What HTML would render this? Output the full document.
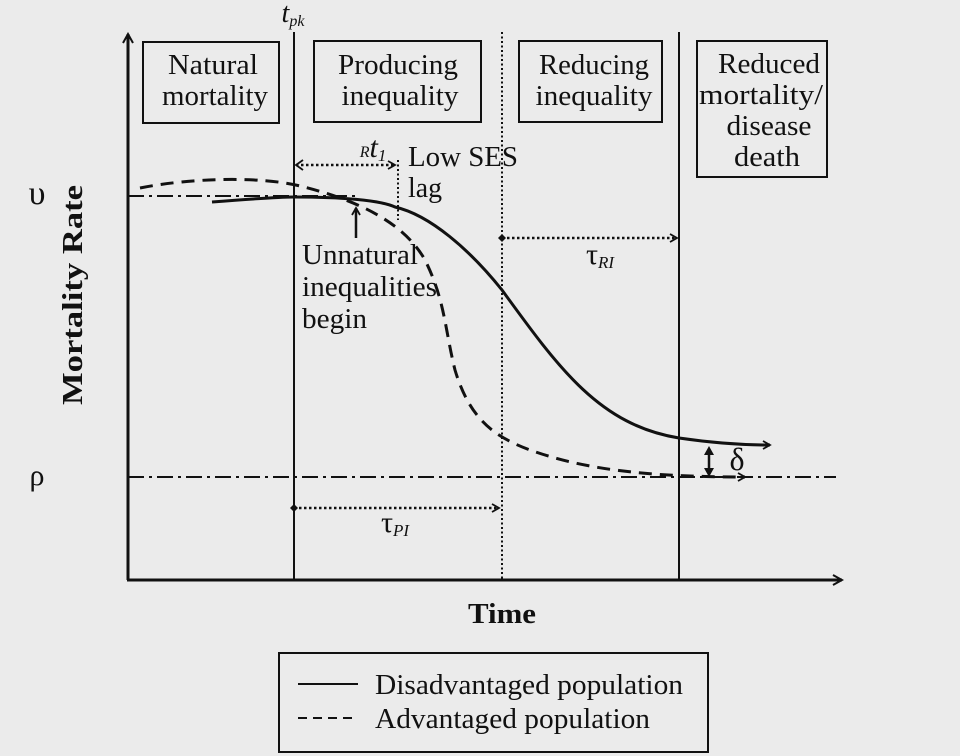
<!DOCTYPE html>
<html><head><style>html,body{margin:0;padding:0;background:#ebebeb;}svg{display:block}</style></head>
<body>
<svg width="960" height="756" viewBox="0 0 960 756" xmlns="http://www.w3.org/2000/svg" font-family="Liberation Serif, serif" fill="none" stroke="#111">
<defs>
<marker id="ah" markerWidth="12" markerHeight="12" refX="10" refY="6" orient="auto" markerUnits="userSpaceOnUse"><path d="M1,1 L10,6 L1,11" stroke="#111" stroke-width="2" fill="none"/></marker>
<marker id="ahs" markerWidth="10" markerHeight="10" refX="8" refY="5" orient="auto" markerUnits="userSpaceOnUse"><path d="M1,1 L8,5 L1,9" stroke="#111" stroke-width="1.8" fill="none"/></marker>
<marker id="dot" markerWidth="8" markerHeight="8" refX="4" refY="4" markerUnits="userSpaceOnUse"><path d="M0,4 L4,0 L8,4 L4,8Z" fill="#111" stroke="none"/></marker>
</defs>
<line x1="128" y1="580" x2="128" y2="34" stroke-width="3" marker-end="url(#ah)"/>
<line x1="127" y1="580" x2="842" y2="580" stroke-width="3" marker-end="url(#ah)"/>
<line x1="294" y1="32" x2="294" y2="580" stroke-width="2"/>
<line x1="502" y1="32" x2="502" y2="580" stroke-width="2" stroke-dasharray="2,2.5"/>
<line x1="679" y1="32" x2="679" y2="580" stroke-width="2"/>
<g stroke-width="2">
<rect x="143" y="42" width="136" height="81"/>
<rect x="314" y="41" width="167" height="81"/>
<rect x="519" y="41" width="143" height="81"/>
<rect x="697" y="41" width="130" height="136"/>
</g>
<g fill="#111" stroke="none" font-size="28" text-anchor="middle" lengthAdjust="spacingAndGlyphs">
<text x="213" y="74" textLength="90" lengthAdjust="spacingAndGlyphs">Natural</text><text x="215" y="105" textLength="106" lengthAdjust="spacingAndGlyphs">mortality</text>
<text x="398" y="74" textLength="120" lengthAdjust="spacingAndGlyphs">Producing</text><text x="400" y="105" textLength="117" lengthAdjust="spacingAndGlyphs">inequality</text>
<text x="594" y="74" textLength="110" lengthAdjust="spacingAndGlyphs">Reducing</text><text x="594" y="105" textLength="117" lengthAdjust="spacingAndGlyphs">inequality</text>
<text x="769" y="73" textLength="102" lengthAdjust="spacingAndGlyphs">Reduced</text><text x="761" y="104" textLength="124" lengthAdjust="spacingAndGlyphs">mortality/</text><text x="769" y="135" textLength="85" lengthAdjust="spacingAndGlyphs">disease</text><text x="767" y="166" textLength="66" lengthAdjust="spacingAndGlyphs">death</text>
<text x="293" y="22" font-style="italic" font-size="28">t<tspan font-size="16" dy="4">pk</tspan></text>
<text x="37" y="204" font-size="34">υ</text>
<text x="37" y="485" font-size="30">ρ</text>
<text x="502" y="623" font-weight="bold" font-size="29" textLength="68" lengthAdjust="spacingAndGlyphs">Time</text>
<text transform="translate(82,295) rotate(-90)" font-weight="bold" font-size="29" textLength="220" lengthAdjust="spacingAndGlyphs">Mortality Rate</text>
<text x="373" y="157" font-style="italic" font-size="30"><tspan font-size="16">R</tspan>t<tspan font-size="17" dy="4">1</tspan></text>
<text x="408" y="166" text-anchor="start" textLength="110" lengthAdjust="spacingAndGlyphs">Low SES</text><text x="408" y="197" text-anchor="start" textLength="34" lengthAdjust="spacingAndGlyphs">lag</text>
<text x="302" y="264" text-anchor="start" textLength="116" lengthAdjust="spacingAndGlyphs">Unnatural</text>
<text x="302" y="296" text-anchor="start" textLength="135" lengthAdjust="spacingAndGlyphs">inequalities</text>
<text x="302" y="328" text-anchor="start" textLength="65" lengthAdjust="spacingAndGlyphs">begin</text>
<text x="600" y="264" font-size="30">τ<tspan font-style="italic" font-size="17" dy="4">RI</tspan></text>
<text x="395" y="532" font-size="30">τ<tspan font-style="italic" font-size="17" dy="4">PI</tspan></text>
<text x="737" y="470" font-size="32">δ</text>
</g>
<line x1="128" y1="196" x2="360" y2="196" stroke-width="2" stroke-dasharray="16,5,3,5"/>
<line x1="128" y1="477" x2="836" y2="477" stroke-width="2" stroke-dasharray="16,5,3,5"/>
<path d="M212,202 C250,199 280,197 294,197 C340,197 380,200 395,207 C430,215 470,250 502,290 C560,370 600,425 679,438 C720,444 750,445 770,445" stroke-width="3" marker-end="url(#ahs)"/>
<path d="M140,188 C190,178 260,176 300,186 C340,196 400,215 425,260 C445,300 445,330 455,370 C470,420 495,437 530,450 C580,468 640,477 745,477" stroke-width="3" stroke-dasharray="13,8" marker-end="url(#ahs)"/>
<line x1="296" y1="165" x2="395" y2="165" stroke-width="2.5" stroke-dasharray="2.5,2.5" marker-end="url(#ahs)"/>
<path d="M303,160 L296,165 L303,170" stroke-width="1.8"/>
<line x1="398" y1="160" x2="398" y2="220" stroke-width="2" stroke-dasharray="2,2.5"/>
<line x1="356" y1="238" x2="356" y2="208" stroke-width="2.5" marker-end="url(#ahs)"/>
<line x1="502" y1="238" x2="677" y2="238" stroke-width="2.5" stroke-dasharray="2.5,2.5" marker-start="url(#dot)" marker-end="url(#ahs)"/>
<line x1="294" y1="508" x2="499" y2="508" stroke-width="2.5" stroke-dasharray="2.5,2.5" marker-start="url(#dot)" marker-end="url(#ahs)"/>
<line x1="709" y1="452" x2="709" y2="471" stroke-width="2.5"/>
<path d="M704,455 L709,446 L714,455Z M704,468 L709,477 L714,468Z" fill="#111" stroke="none"/>
<rect x="279" y="653" width="429" height="99" stroke-width="2"/>
<line x1="298" y1="684" x2="358" y2="684" stroke-width="2"/>
<line x1="298" y1="718" x2="358" y2="718" stroke-width="2" stroke-dasharray="9,6"/>
<g fill="#111" stroke="none" font-size="28">
<text x="375" y="694" textLength="308" lengthAdjust="spacingAndGlyphs">Disadvantaged population</text>
<text x="375" y="728" textLength="275" lengthAdjust="spacingAndGlyphs">Advantaged population</text>
</g>
</svg>
</body></html>
